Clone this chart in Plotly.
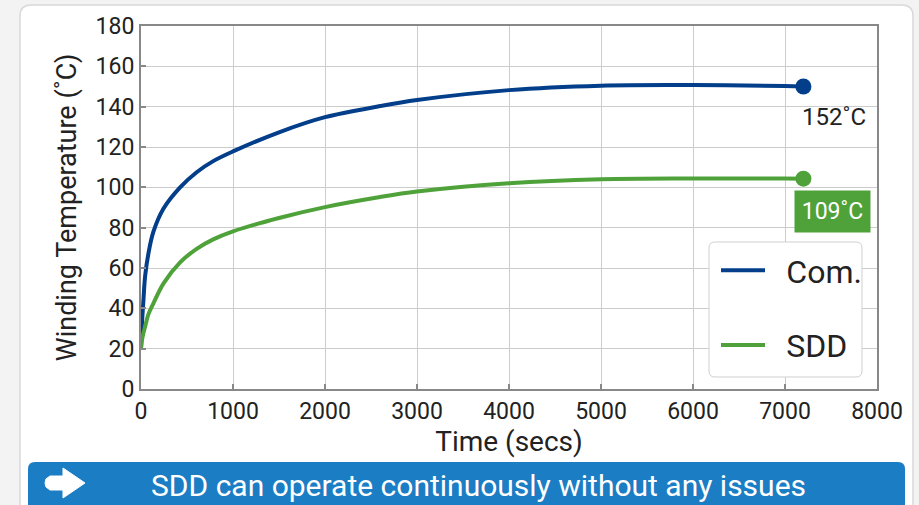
import plotly.graph_objects as go

# ---- data ----
time_s = [0, 10, 25, 45, 80, 135, 245, 425, 605, 785, 1000, 1500, 2000, 2600, 3000, 4000, 5000, 6000, 7000, 7200]
com_temp = [20, 32, 43, 56, 67, 78, 89.5, 100, 107.5, 113, 117.8, 127.3, 134.8, 140.3, 143.3, 148.2, 150.4, 150.7, 150.3, 150]
sdd_temp = [20, 24, 27.5, 31, 37, 42.5, 52.4, 62.8, 69.5, 74.2, 78.2, 84.8, 90.2, 95.2, 97.9, 102, 104, 104.4, 104.4, 104.3]
series_names = ["Com.", "SDD"]
end_labels = ["152˚C", "109˚C"]
x_ticks = [0, 1000, 2000, 3000, 4000, 5000, 6000, 7000, 8000]
y_ticks = [0, 20, 40, 60, 80, 100, 120, 140, 160, 180]
banner_text = "SDD can operate continuously without any issues"

BLUE = "#023e8a"
GREEN = "#4fa23a"
W, H = 919, 505
L, R, T, B = 141, 877, 26, 389  # plot area in px


def px(xp):
    return (xp - L) / (R - L)


def py(yp):
    return (B - yp) / (B - T)


def rrect(x0, y0, x1, y1, r):
    pts = [
        ("M", x0 + r, y0), ("L", x1 - r, y0), ("Q", x1, y0, x1, y0 + r),
        ("L", x1, y1 - r), ("Q", x1, y1, x1 - r, y1), ("L", x0 + r, y1),
        ("Q", x0, y1, x0, y1 - r), ("L", x0, y0 + r), ("Q", x0, y0, x0 + r, y0),
    ]
    s = ""
    for p in pts:
        if p[0] == "Q":
            s += f"Q{px(p[1]):.5f},{py(p[2]):.5f} {px(p[3]):.5f},{py(p[4]):.5f} "
        else:
            s += f"{p[0]}{px(p[1]):.5f},{py(p[2]):.5f} "
    return s + "Z"


def poly(points):
    s = ""
    for i, (a, b) in enumerate(points):
        s += ("M" if i == 0 else "L") + f"{px(a):.5f},{py(b):.5f} "
    return s + "Z"


fig = go.Figure()
fig.add_trace(go.Scatter(x=time_s, y=com_temp, mode="lines", name="\u2002" + series_names[0],
                         line=dict(color=BLUE, width=4, shape="spline", smoothing=1.0), legendgroup="a"))
fig.add_trace(go.Scatter(x=time_s, y=sdd_temp, mode="lines", name="\u2002" + series_names[1],
                         line=dict(color=GREEN, width=4, shape="spline", smoothing=1.0), legendgroup="b"))
fig.add_trace(go.Scatter(x=[time_s[-1]], y=[com_temp[-1]], mode="markers", showlegend=False,
                         marker=dict(color=BLUE, size=16)))
fig.add_trace(go.Scatter(x=[time_s[-1]], y=[sdd_temp[-1]], mode="markers", showlegend=False,
                         marker=dict(color=GREEN, size=16)))

fig.add_annotation(x=time_s[-1], y=com_temp[-1], text=end_labels[0], showarrow=False,
                   xanchor="left", yanchor="middle", xshift=-3, yshift=-30,
                   font=dict(family="Roboto", size=24, color="#222"))
fig.add_annotation(x=time_s[-1], y=sdd_temp[-1], text=end_labels[1], showarrow=False,
                   xanchor="left", yanchor="middle", xshift=-9, yshift=-33,
                   bgcolor=GREEN, width=69, height=35, borderpad=3,
                   font=dict(family="Roboto", size=23, color="white"))

shapes = [
    # card
    dict(type="path", xref="paper", yref="paper", path=rrect(20, 5, 913, 530, 11),
         fillcolor="white", line=dict(color="#d9d9d9", width=1.5), layer="below"),
    # legend box
    dict(type="path", xref="paper", yref="paper", path=rrect(709, 242, 862, 377, 6),
         fillcolor="white", line=dict(color="#cfcfcf", width=1), layer="above"),
    # banner
    dict(type="path", xref="paper", yref="paper", path=rrect(28, 462, 905, 520, 7),
         fillcolor="#1b7dc4", line=dict(width=0), layer="below"),
    # arrow icon
    dict(type="path", xref="paper", yref="paper",
         path=poly([(50, 476), (63, 476), (63, 468), (85, 483), (63, 498), (63, 490), (50, 490),
                    (46, 487), (45, 483), (46, 479)]),
         fillcolor="white", line=dict(color="white", width=1), layer="above"),
]

fig.add_annotation(x=px(478), y=py(485), xref="paper", yref="paper", text=banner_text,
                   showarrow=False, xanchor="center", yanchor="middle",
                   font=dict(family="Roboto", size=30, color="white"))

axis_common = dict(showgrid=True, gridcolor="#cccccc", gridwidth=1, showline=True,
                   linecolor="#888888", linewidth=2, mirror=True, ticks="inside",
                   ticklen=5, tickwidth=2, tickcolor="#888888", zeroline=False,
                   tickfont=dict(family="Roboto", size=23, color="#222"))

fig.update_layout(
    width=W, height=H,
    margin=dict(l=L, r=W - R, t=T, b=H - B),
    paper_bgcolor="#f3f3f3", plot_bgcolor="white",
    shapes=shapes,
    font=dict(family="Roboto", color="#222"),
    xaxis=dict(range=[0, 8000], tickvals=x_ticks,
               title=dict(text="Time (secs)", font=dict(family="Roboto", size=28, color="#222"), standoff=2),
               **axis_common),
    yaxis=dict(range=[0, 180], tickvals=y_ticks,
               title=dict(text="Winding Temperature (˚C)", font=dict(family="Roboto", size=27, color="#222"), standoff=11),
               **axis_common),
    legend=dict(x=px(716), y=py(243), xanchor="left", yanchor="top",
                bgcolor="rgba(0,0,0,0)", borderwidth=0, itemwidth=44,
                tracegroupgap=30, traceorder="grouped",
                font=dict(family="Roboto", size=32, color="#222")),
    showlegend=True,
)

fig.write_html("out.html", config={"displayModeBar": False},
               post_script="document.body.style.margin='0';document.body.style.background='#f3f3f3';")
